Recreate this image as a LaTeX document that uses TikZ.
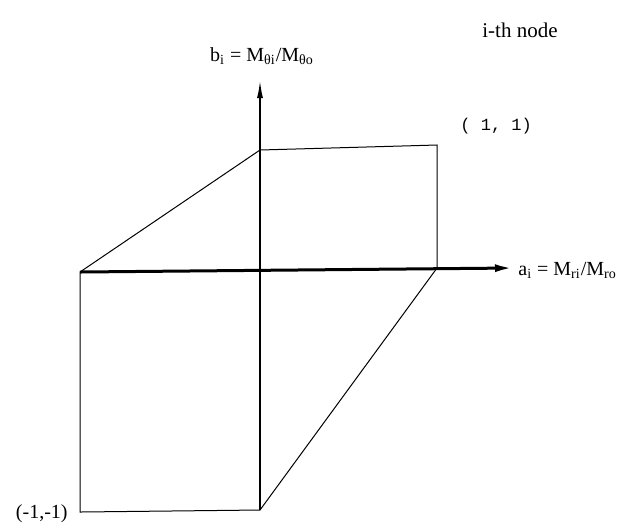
\documentclass[tikz,border=0pt]{standalone}
\usepackage{fontspec}
\setmainfont{Liberation Serif}
\setmonofont{Liberation Mono}
\usetikzlibrary{arrows.meta}

\begin{document}
\begin{tikzpicture}[x=0.5pt, y=-0.5pt,
      every node/.style={font=\normalsize, inner sep=1pt},
      edge/.style={line width=0.5pt},
      vaxis/.style={line width=0.9pt, -{Latex[length=9pt, width=3pt]}},
      haxis/.style={line width=1.5pt, -{Latex[length=9pt, width=4pt]}}]
    \useasboundingbox (0,0) rectangle (630,527);
    % corners of the two squares
    \coordinate (A) at (260,150);
    \coordinate (B) at (437,145);
    \coordinate (C) at (437,268);
    \coordinate (L) at (80,272);
    \coordinate (D) at (80,512);
    \coordinate (E) at (260,510);
    \coordinate (btip) at (260,80);
    \coordinate (atip) at (513,268);
    % axes
    \draw[vaxis] (E) -- (btip);
    \draw[haxis] (L) -- (atip);
    % upper square and diagonal
    \draw[edge] (L) -- (A) -- (B) -- (C);
    % lower square and diagonal
    \draw[edge] (L) -- (D) -- (E) -- (C);
    % labels
    \node[font=\fontsize{10.5}{12}\selectfont] (title) at (520,30) {i-th node};
    \node (blabel) at (262,56) {b\textsubscript{i} = M\textsubscript{θi}/M\textsubscript{θo}};
    \node[anchor=west] (alabel) at (516,270) {a\textsubscript{i} = M\textsubscript{ri}/M\textsubscript{ro}};
    \node[font=\ttfamily\fontsize{8.5}{10}\selectfont, anchor=west] (one) at (458,126) {( 1, 1)};
    \node[anchor=east] (mone) at (70,514) {(-1,-1)};
\end{tikzpicture}
\end{document}
